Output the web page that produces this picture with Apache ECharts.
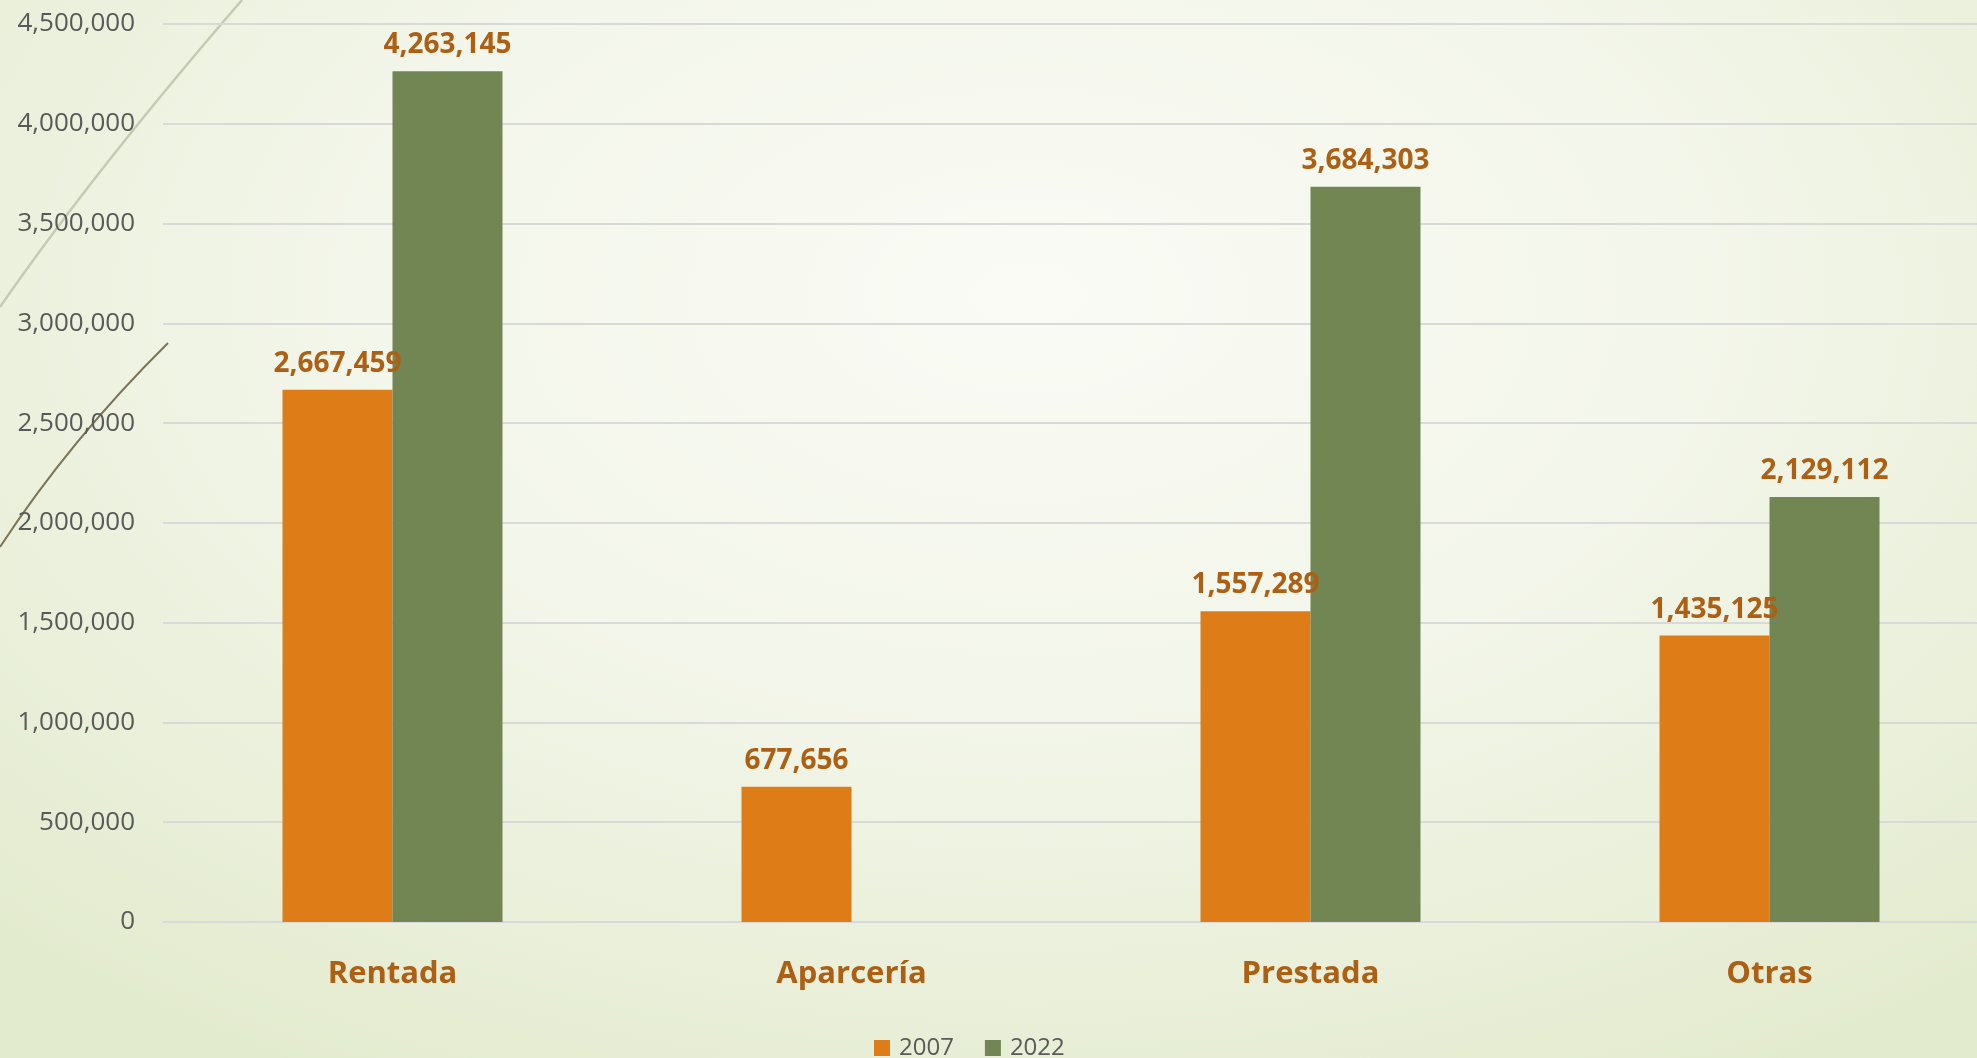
<!DOCTYPE html>
<html>
<head>
<meta charset="utf-8">
<script src="https://cdn.jsdelivr.net/npm/echarts@6/dist/echarts.min.js"></script>
<style>
  html, body { margin: 0; padding: 0; }
  body {
    width: 1977px; height: 1058px; overflow: hidden;
    background: radial-gradient(ellipse 75% 85% at 52% 28%, #fafbf5 0%, #f3f6ea 45%, #e3ebce 100%);
  }
  /* el grafico es algo mas ancho que la ventana: el area de trazado sigue fuera del borde */
  #chart { width: 2000px; height: 1058px; }
</style>
</head>
<body>
<div id="chart"></div>
<script>
// datos
var categorias = ['Rentada', 'Aparcería', 'Prestada', 'Otras'];
var serie2007 = [2667459, 677656, 1557289, 1435125];
var serie2022 = [4263145, null, 3684303, 2129112];
var yTicks = [0, 500000, 1000000, 1500000, 2000000, 2500000, 3000000, 3500000, 4000000, 4500000];

var colorEtiqueta = '#ad5f14';

function fmt(v) {
    return Number(v).toLocaleString('en-US');
}

var chart = echarts.init(document.getElementById('chart'));

var option = {
    backgroundColor: 'transparent',
    animation: false,
    textStyle: { fontFamily: 'Open Sans' },
    grid: { left: 163, right: 1, top: 24, bottom: 136 },
    legend: {
        left: 874,
        top: 1036,
        padding: 0,
        itemWidth: 16,
        itemHeight: 16,
        itemGap: 31,
        icon: 'rect',
        textStyle: { fontSize: 24, color: '#595959', fontFamily: 'Open Sans', padding: [0, 0, 0, 4] },
        data: ['2007', '2022']
    },
    xAxis: {
        type: 'category',
        data: categorias,
        axisLine: { lineStyle: { color: '#d9d9d9', width: 2 } },
        axisTick: { show: false },
        axisLabel: {
            margin: 37,
            fontSize: 31,
            fontWeight: 'bold',
            color: colorEtiqueta,
            fontFamily: 'Open Sans'
        }
    },
    yAxis: {
        type: 'value',
        min: yTicks[0],
        max: yTicks[yTicks.length - 1],
        interval: yTicks[1] - yTicks[0],
        axisLine: { show: false },
        axisTick: { show: false },
        splitLine: { lineStyle: { color: '#d9d9d9', width: 2 } },
        axisLabel: {
            margin: 28,
            fontSize: 26,
            color: '#595959',
            fontFamily: 'Open Sans',
            formatter: function (v) { return fmt(v); }
        }
    },
    series: [{
        name: '2007',
        type: 'bar',
        data: serie2007,
        barWidth: 110,
        barGap: '0%',
        itemStyle: { color: '#de7c18' },
        label: {
            show: true,
            position: 'top',
            distance: 12,
            fontSize: 28,
            fontWeight: 'bold',
            color: colorEtiqueta,
            fontFamily: 'Open Sans',
            formatter: function (p) { return fmt(p.value); }
        }
    }, {
        name: '2022',
        type: 'bar',
        data: serie2022,
        barWidth: 110,
        barGap: '0%',
        itemStyle: { color: '#728653' },
        label: {
            show: true,
            position: 'top',
            distance: 12,
            fontSize: 28,
            fontWeight: 'bold',
            color: colorEtiqueta,
            fontFamily: 'Open Sans',
            formatter: function (p) { return fmt(p.value); }
        }
    }],
    graphic: [{
        // lineas decorativas del tema
        type: 'bezierCurve',
        silent: true,
        z: 0,
        shape: { x1: 0, y1: 307, x2: 242, y2: 0, cpx1: 95, cpy1: 170 },
        style: { stroke: '#c6cab2', lineWidth: 2.5, fill: null }
    }, {
        type: 'bezierCurve',
        silent: true,
        z: 0,
        shape: { x1: 0, y1: 547, x2: 168, y2: 343, cpx1: 70, cpy1: 440 },
        style: { stroke: '#7b7457', lineWidth: 2, fill: null }
    }]
};

chart.setOption(option);
</script>
</body>
</html>
